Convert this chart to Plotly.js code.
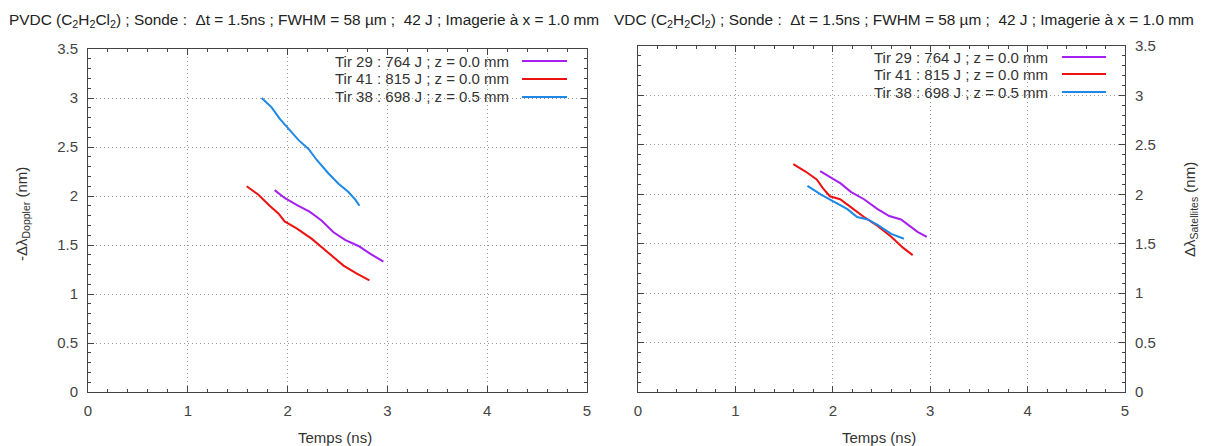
<!DOCTYPE html>
<html>
<head>
<meta charset="utf-8">
<script src="https://cdn.plot.ly/plotly-3.0.1.min.js"></script>
<style>html,body{margin:0;padding:0;background:#fff;}#chart{width:1217px;height:446px;}</style>
</head>
<body>
<div id="chart"></div>
<script>
// ---- Data (left panel: -Δλ Doppler) ----
const leftTir29X = [1.87, 1.97, 2.09, 2.22, 2.34, 2.46, 2.58, 2.71, 2.83, 2.96];
const leftTir29Y = [2.06, 1.98, 1.91, 1.84, 1.75, 1.63, 1.55, 1.49, 1.41, 1.33];
const leftTir41X = [1.59, 1.71, 1.82, 1.91, 1.97, 2.09, 2.24, 2.36, 2.46, 2.56, 2.69, 2.82];
const leftTir41Y = [2.10, 2.01, 1.90, 1.82, 1.74, 1.67, 1.565, 1.46, 1.38, 1.29, 1.21, 1.14];
const leftTir38X = [1.74, 1.84, 1.92, 2.02, 2.11, 2.21, 2.29, 2.41, 2.51, 2.61, 2.68, 2.72];
const leftTir38Y = [3.00, 2.905, 2.79, 2.67, 2.57, 2.48, 2.37, 2.23, 2.125, 2.04, 1.96, 1.90];

// ---- Data (right panel: Δλ Satellites) ----
const rightTir29X = [1.87, 1.98, 2.08, 2.185, 2.32, 2.46, 2.58, 2.70, 2.79, 2.87, 2.965];
const rightTir29Y = [2.235, 2.17, 2.11, 2.025, 1.95, 1.85, 1.78, 1.745, 1.68, 1.62, 1.57];
const rightTir41X = [1.595, 1.72, 1.835, 1.90, 1.97, 2.075, 2.185, 2.32, 2.46, 2.60, 2.72, 2.82];
const rightTir41Y = [2.305, 2.23, 2.15, 2.06, 1.98, 1.95, 1.87, 1.77, 1.68, 1.57, 1.46, 1.385];
const rightTir38X = [1.74, 1.875, 2.01, 2.15, 2.25, 2.36, 2.46, 2.60, 2.73];
const rightTir38Y = [2.085, 2.00, 1.925, 1.85, 1.77, 1.745, 1.69, 1.60, 1.55];

const seriesNames = ["Tir 29 : 764 J ; z = 0.0 mm", "Tir 41 : 815 J ; z = 0.0 mm", "Tir 38 : 698 J ; z = 0.5 mm"];
const seriesColors = ["#a51ff0", "#ee1111", "#1e88e8"];
const xTickVals = [0, 1, 2, 3, 4, 5];
const yTickVals = [0, 0.5, 1, 1.5, 2, 2.5, 3, 3.5];
const titleLeft = "PVDC (C<sub>2</sub>H<sub>2</sub>Cl<sub>2</sub>) ; Sonde :  Δt = 1.5ns ; FWHM = 58 µm ;  42 J ; Imagerie à x = 1.0 mm";
const titleRight = "VDC (C<sub>2</sub>H<sub>2</sub>Cl<sub>2</sub>) ; Sonde :  Δt = 1.5ns ; FWHM = 58 µm ;  42 J ; Imagerie à x = 1.0 mm";

const W = 1217, H = 446;
const px = p => p / W;
const py = p => 1 - p / H;
const FONT = "Liberation Sans, Arial, sans-serif";

const leftSets = [[leftTir29X, leftTir29Y], [leftTir41X, leftTir41Y], [leftTir38X, leftTir38Y]];
const rightSets = [[rightTir29X, rightTir29Y], [rightTir41X, rightTir41Y], [rightTir38X, rightTir38Y]];

const traces = [];
leftSets.forEach((s, i) => traces.push({x: s[0], y: s[1], type: "scatter", mode: "lines", name: seriesNames[i],
  line: {color: seriesColors[i], width: 2}, xaxis: "x", yaxis: "y", showlegend: false}));
rightSets.forEach((s, i) => traces.push({x: s[0], y: s[1], type: "scatter", mode: "lines", name: seriesNames[i],
  line: {color: seriesColors[i], width: 2}, xaxis: "x2", yaxis: "y2", showlegend: false}));

function axisBase() {
  return {
    showline: true, linecolor: "#444", linewidth: 1, mirror: "ticks",
    ticks: "inside", ticklen: 6, tickcolor: "#444", tickwidth: 1,
    showgrid: true, gridcolor: "#9a9a9a", griddash: "1px,3px", gridwidth: 1,
    zeroline: false, fixedrange: true,
    tickfont: {family: FONT, size: 15, color: "#444"}
  };
}
const xa = (dom) => Object.assign(axisBase(), {domain: dom, range: [0, 5], tickvals: xTickVals,
  minor: {dtick: 0.2, ticks: "inside", ticklen: 3, tickcolor: "#444", showgrid: false}, ticklabelstandoff: 5});
const ya = (dom, side) => Object.assign(axisBase(), {domain: dom, range: [0, 3.5], tickvals: yTickVals, side: side,
  minor: {dtick: 0.1, ticks: "inside", ticklen: 3, tickcolor: "#444", showgrid: false}, ticklabelstandoff: 6});

const shapes = [];
const annotations = [];
// legend boxes (white, above grid)
shapes.push({type: "rect", xref: "paper", yref: "paper", x0: px(264), x1: px(576), y0: py(106), y1: py(51),
  fillcolor: "#fff", line: {width: 0}, layer: "between"});
shapes.push({type: "rect", xref: "paper", yref: "paper", x0: px(796), x1: px(1108), y0: py(101), y1: py(48),
  fillcolor: "#fff", line: {width: 0}, layer: "between"});
const legL = {textX: 511, lx0: 522, lx1: 567, rows: [61, 79, 97]};
const legR = {textX: 1050, lx0: 1062, lx1: 1106, rows: [57, 74, 92]};
[legL, legR].forEach(L => {
  seriesNames.forEach((n, i) => {
    annotations.push({xref: "paper", yref: "paper", x: px(L.textX), y: py(L.rows[i]), xanchor: "right", yanchor: "middle",
      text: n, showarrow: false, font: {family: FONT, size: 15, color: "#333"}});
    shapes.push({type: "line", xref: "paper", yref: "paper", x0: px(L.lx0), x1: px(L.lx1), y0: py(L.rows[i]), y1: py(L.rows[i]),
      line: {color: seriesColors[i], width: 2}, layer: "above"});
  });
});
// titles
annotations.push({xref: "paper", yref: "paper", x: px(7), y: py(20), xanchor: "left", yanchor: "middle",
  text: titleLeft, showarrow: false, font: {family: FONT, size: 15.4, color: "#222"}});
annotations.push({xref: "paper", yref: "paper", x: px(612), y: py(20), xanchor: "left", yanchor: "middle",
  text: titleRight, showarrow: false, font: {family: FONT, size: 15.4, color: "#222"}});
// axis titles
annotations.push({xref: "paper", yref: "paper", x: px(335), y: py(437), xanchor: "center", yanchor: "middle",
  text: "Temps (ns)", showarrow: false, font: {family: FONT, size: 15, color: "#333"}});
annotations.push({xref: "paper", yref: "paper", x: px(879), y: py(437), xanchor: "center", yanchor: "middle",
  text: "Temps (ns)", showarrow: false, font: {family: FONT, size: 15, color: "#333"}});
annotations.push({xref: "paper", yref: "paper", x: px(22), y: py(214), xanchor: "center", yanchor: "middle", textangle: -90,
  text: "-Δλ<sub>Doppler</sub> (nm)", showarrow: false, font: {family: FONT, size: 15, color: "#333"}});
annotations.push({xref: "paper", yref: "paper", x: px(1190), y: py(210), xanchor: "center", yanchor: "middle", textangle: -90,
  text: "Δλ<sub>Satellites</sub> (nm)", showarrow: false, font: {family: FONT, size: 15, color: "#333"}});

const layout = {
  width: W, height: H,
  margin: {l: 0, r: 0, t: 0, b: 0},
  paper_bgcolor: "#fff", plot_bgcolor: "#fff",
  showlegend: false,
  xaxis: xa([px(88), px(587)]),
  yaxis: ya([1 - 392 / H, 1 - 49 / H], "left"),
  xaxis2: Object.assign(xa([px(638), px(1125)]), {anchor: "y2"}),
  yaxis2: Object.assign(ya([1 - 392 / H, 1 - 46 / H], "right"), {anchor: "x2"}),
  shapes: shapes,
  annotations: annotations
};
layout.xaxis.anchor = "y";
layout.yaxis.anchor = "x";

Plotly.newPlot("chart", traces, layout, {displayModeBar: false, staticPlot: true});
</script>
</body>
</html>
